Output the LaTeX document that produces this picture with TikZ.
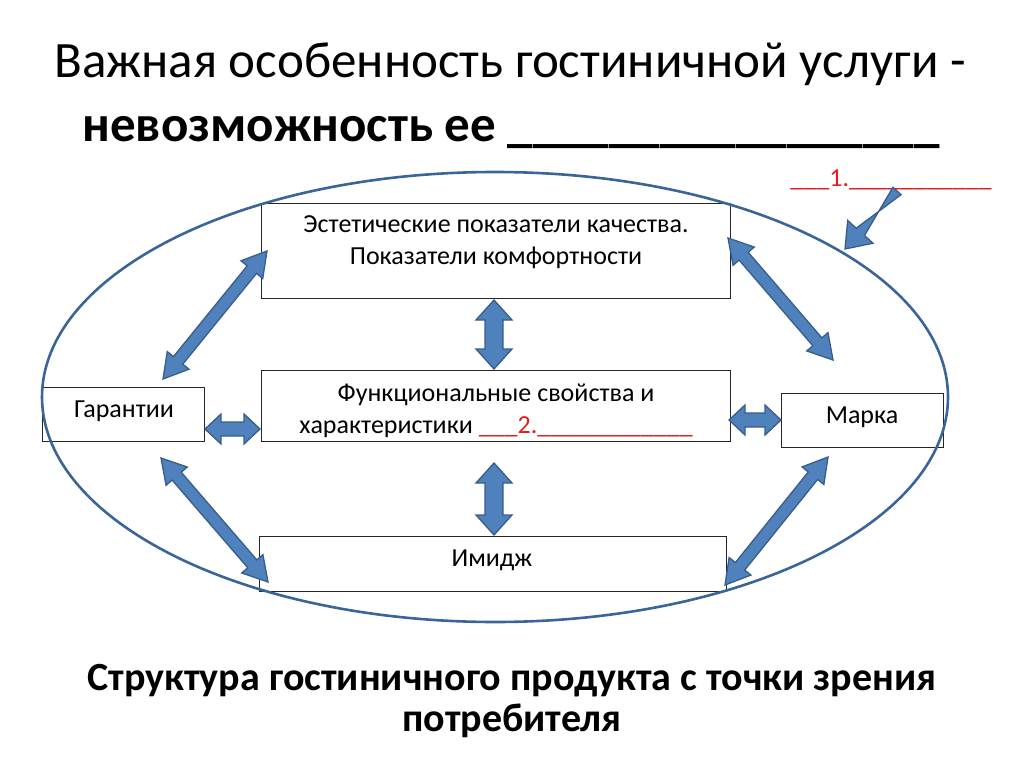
\documentclass[tikz,border=0pt]{standalone}
\usepackage{fontspec}
\setmainfont{Carlito}
\usetikzlibrary{calc,shapes.geometric}
\definecolor{ellblue}{HTML}{3A6598}
\definecolor{arrfill}{HTML}{4F81BD}
\definecolor{arrline}{HTML}{385D8A}
\definecolor{redtxt}{HTML}{E0201E}
\newcommand\dblarrow[5]{%
  \coordinate (ha) at ($(#1)!#5!(#2)$);
  \coordinate (hb) at ($(#2)!#5!(#1)$);
  \filldraw[blockarrow] (#1) -- ($(ha)!#4!-90:(#2)$) -- ($(ha)!#3!-90:(#2)$)
    -- ($(hb)!#3!90:(#1)$) -- ($(hb)!#4!90:(#1)$) -- (#2)
    -- ($(hb)!#4!-90:(#1)$) -- ($(hb)!#3!-90:(#1)$)
    -- ($(ha)!#3!90:(#2)$) -- ($(ha)!#4!90:(#2)$) -- cycle;}
\begin{document}
\begin{tikzpicture}[x=1pt,y=-1pt,
  box/.style={draw=black!85, line width=1.3pt, fill=white, inner sep=0pt, anchor=north west},
  boxtext/.style={anchor=base, inner sep=0pt, font=\fontsize{26}{31}\selectfont},
  blockarrow/.style={fill=arrfill, draw=arrline, line width=1.3pt, line join=miter},
  titlefont/.style={font=\fontsize{51}{60}\selectfont, anchor=base, inner sep=0pt},
  bottomfont/.style={font=\fontsize{40}{46}\selectfont\bfseries, anchor=base, inner sep=0pt}]
\useasboundingbox (0,0) rectangle (1024,767);
% title
\node[titlefont] (t1) at (510,78) {Важная особенность гостиничной услуги -};
\node[titlefont] (t2) at (511,142) {\bfseries невозможность ее \_\_\_\_\_\_\_\_\_\_\_\_\_\_\_\_\_};
% red label 1
\node[boxtext, text=redtxt] (lab1) at (891,187) {\_\_\_1.\_\_\_\_\_\_\_\_\_\_\_};
% boxes
\node[box, minimum width=469pt, minimum height=95pt] (topb) at (261,203) {};
\node[box, minimum width=469pt, minimum height=71pt] (midb) at (261,370) {};
\node[box, minimum width=162pt, minimum height=54pt] (garb) at (42,387) {};
\node[box, minimum width=162pt, minimum height=54pt] (marb) at (781,393) {};
\node[box, minimum width=467pt, minimum height=55pt] (imgb) at (259,536) {};
% ellipse
\node[draw=ellblue, line width=2.6pt, ellipse, minimum width=906pt, minimum height=450pt, inner sep=0pt] (ell) at (495,397) {};
% box texts
\node[boxtext] (topt1) at (496,233) {Эстетические показатели качества.};
\node[boxtext] (topt2) at (496,264) {Показатели комфортности};
\node[boxtext] (midt1) at (496,401) {Функциональные свойства и};
\node[boxtext] (midt2) at (496,433) {характеристики \textcolor{redtxt}{\_\_\_2.\_\_\_\_\_\_\_\_\_\_\_\_}};
\node[boxtext] (gart) at (124,417) {Гарантии};
\node[boxtext] (mart) at (862,423) {Марка};
\node[boxtext] (imgt) at (492,566) {Имидж};
% arrow end points
\coordinate (a1s) at (163,379); \coordinate (a1e) at (267,251);
\coordinate (a2s) at (728,238); \coordinate (a2e) at (833,360);
\coordinate (a3s) at (494,300); \coordinate (a3e) at (494,369);
\coordinate (a4s) at (494,463); \coordinate (a4e) at (494,535);
\coordinate (a5s) at (205,429); \coordinate (a5e) at (260,429);
\coordinate (a6s) at (729,420); \coordinate (a6e) at (781,420);
\coordinate (a7s) at (161,458); \coordinate (a7e) at (268,582);
\coordinate (a8s) at (828,457); \coordinate (a8e) at (725,585);
\dblarrow{a1s}{a1e}{6pt}{14pt}{24pt}
\dblarrow{a2s}{a2e}{6pt}{14pt}{24pt}
\dblarrow{a3s}{a3e}{9pt}{18pt}{20pt}
\dblarrow{a4s}{a4e}{9pt}{18pt}{20pt}
\dblarrow{a5s}{a5e}{7pt}{15pt}{16pt}
\dblarrow{a6s}{a6e}{7pt}{15pt}{16pt}
\dblarrow{a7s}{a7e}{6pt}{14pt}{24pt}
\dblarrow{a8s}{a8e}{6pt}{14pt}{24pt}
% pointer arrow
\coordinate (ps) at (897,191); \coordinate (pe) at (845,249);
\coordinate (pn) at ($(pe)!23pt!(ps)$);
\filldraw[blockarrow] ($(ps)!5.5pt!90:(pe)$) -- ($(pn)!5.5pt!-90:(pe)$) -- ($(pn)!17pt!-90:(pe)$)
  -- (pe) -- ($(pn)!17pt!90:(pe)$) -- ($(pn)!5.5pt!90:(pe)$) -- ($(ps)!5.5pt!-90:(pe)$) -- cycle;
% bottom caption
\node[bottomfont] (cap1) at (512,690) {Структура гостиничного продукта с точки зрения};
\node[bottomfont] (cap2) at (512,731) {потребителя};
\end{tikzpicture}
\end{document}
